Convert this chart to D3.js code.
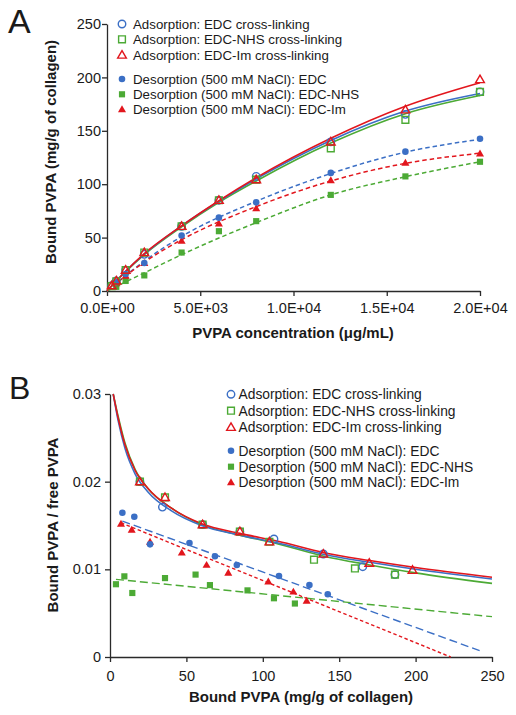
<!DOCTYPE html>
<html><head><meta charset="utf-8">
<script src="https://cdn.jsdelivr.net/npm/d3@7"></script>
<style>body{margin:0;background:#fff} svg{display:block} text{font-family:"Liberation Sans",Arial,Helvetica,sans-serif;fill:#1a1a1a}</style>
</head><body><svg id="c" width="516" height="715"></svg>
<script>
// ---------- Panel A data ----------
const concAds = [250, 500, 1000, 2000, 4000, 6000, 8000, 12000, 16000, 20000];
const adsEDC = [5, 9.5, 19.6, 34.3, 60.6, 85, 107.3, 139.6, 165.4, 186.5];
const adsNHS = [4.5, 9, 19.6, 36, 60.6, 85, 104.3, 133.5, 160.3, 186.5];
const adsIm  = [5, 9.5, 19.6, 36, 60.6, 85, 104.3, 139.6, 169.7, 198];

const concDes = [500, 1000, 2000, 4000, 6000, 8000, 12000, 16000, 20000];
const desEDC = [8.1, 15.9, 26.2, 52, 68.7, 83, 110.6, 130.5, 142.5];
const desNHS = [3.9, 9.4, 14.6, 36, 56, 65.4, 90, 107.3, 121];
const desIm  = [7.2, 14.2, 26.2, 47, 63.2, 77.4, 103.6, 120, 128.7];

// fitted curves in A
const fitConcAds = [0, 1000, 2000, 4000, 6000, 8000, 12000, 16000, 20000];
const fitAdsEDC = [0, 18.5, 34.5, 61, 84, 105, 141, 168.5, 185];
const fitAdsNHS = [0, 18, 34, 60, 83, 103, 138.5, 166, 183];
const fitAdsIm  = [0, 18.5, 35, 61, 84.5, 106, 143, 173, 195];
const fitConcDes = [0, 2000, 4000, 8000, 12000, 16000, 20000];
const fitDesEDC = [0, 28, 51, 84, 110, 130, 142];
const fitDesNHS = [0, 17, 34, 64, 90, 107, 121];
const fitDesIm  = [0, 27, 48, 79, 103, 119.5, 129];

const xTicksA = [0, 5000, 10000, 15000, 20000];
const xTickLabelsA = ["0.0E+00", "5.0E+03", "1.0E+04", "1.5E+04", "2.0E+04"];
const yTicksA = [0, 50, 100, 150, 200, 250];

// ---------- Panel B data ----------
// x = bound PVPA (same bound values as A, conc >= 1000 for adsorption), y = bound/free
const adsRatioEDC = [0.0200, 0.0171, 0.0151, 0.0143, 0.01346, 0.01175, 0.0103, 0.0094];
const adsRatioNHS = [0.0200, 0.0182, 0.0151, 0.0143, 0.01315, 0.0111, 0.0101, 0.0094];
const adsRatioIm  = [0.0200, 0.0182, 0.0151, 0.0143, 0.01315, 0.01175, 0.0107, 0.0099];
const desRatioEDC = [0.01646, 0.0160, 0.01285, 0.0130, 0.0115, 0.0105, 0.00924, 0.0082, 0.00715];
const desRatioNHS = [0.0083, 0.0092, 0.0073, 0.0090, 0.0094, 0.0082, 0.0076, 0.0067, 0.0061];
const desRatioIm  = [0.0152, 0.0145, 0.01315, 0.0119, 0.0105, 0.0096, 0.0086, 0.00745, 0.0064];

const fitBoundB = [2.1, 5.4, 9.8, 16.4, 25, 40, 60, 85, 110, 140, 170, 200, 250];
const fitBEDC = [0.0300, 0.0269, 0.0238, 0.0209, 0.0188, 0.0167, 0.0150, 0.0139, 0.0130, 0.0117, 0.0108, 0.0100, 0.0089];
const fitBNHS = [0.0300, 0.0274, 0.0244, 0.0214, 0.0192, 0.0170, 0.0151, 0.0139, 0.0129, 0.0115, 0.0105, 0.0096, 0.0084];
const fitBIm  = [0.0300, 0.0272, 0.0242, 0.0213, 0.0192, 0.0170, 0.0152, 0.0141, 0.0132, 0.0119, 0.0110, 0.0102, 0.0091];

const desLineEDCx = [8.1, 242], desLineEDCy = [0.0155, 0.00072];
const desLineNHSx = [3.9, 250], desLineNHSy = [0.00886, 0.0046];
const desLineImx  = [7.2, 223], desLineImy  = [0.0153, 0.0];

const xTicksB = [0, 50, 100, 150, 200, 250];
const yTicksB = [0, 0.01, 0.02, 0.03];
const yTickLabelsB = ["0", "0.01", "0.02", "0.03"];

const legendLabels = [
  "Adsorption: EDC cross-linking",
  "Adsorption: EDC-NHS cross-linking",
  "Adsorption: EDC-Im cross-linking",
  "Desorption (500 mM NaCl): EDC",
  "Desorption (500 mM NaCl): EDC-NHS",
  "Desorption (500 mM NaCl): EDC-Im"
];

// ---------- styles ----------
const C = {edc: "#3b6fc5", nhs: "#4caa35", im: "#e2161d"};
const AX = "#2a2a2a";
const svg = d3.select("#c");

function marker(g, kind, open, x, y, color) {
  const type = kind === "c" ? d3.symbolCircle : kind === "s" ? d3.symbolSquare : d3.symbolTriangle;
  const size = kind === "c" ? (open ? 44 : 34) : kind === "s" ? (open ? 46 : 38) : (open ? 33 : 28);
  g.append("path")
    .attr("d", d3.symbol().type(type).size(size)())
    .attr("transform", `translate(${x},${y + (kind === "t" ? 0.6 : 0)})`)
    .attr("fill", open ? "none" : color)
    .attr("stroke", open ? color : "none")
    .attr("stroke-width", 1.4);
}

function styleAxis(g, fs) {
  g.selectAll("path.domain").attr("stroke", AX).attr("stroke-width", 1.3);
  g.selectAll(".tick line").attr("stroke", AX).attr("stroke-width", 1.3);
  g.selectAll(".tick text").attr("font-size", fs).attr("fill", "#1a1a1a")
    .attr("font-family", '"Liberation Sans",Arial,sans-serif');
}

// ================= Panel A =================
const xA = d3.scaleLinear().domain([0, 20000]).range([107, 480]);
const yA = d3.scaleLinear().domain([0, 250]).range([291, 24]);

const gAx = svg.append("g").attr("transform", "translate(0,291)")
  .call(d3.axisBottom(xA).tickValues(xTicksA).tickFormat((d, i) => xTickLabelsA[i]).tickSize(5).tickSizeOuter(0).tickPadding(7));
styleAxis(gAx, 14.5);
const gAy = svg.append("g").attr("transform", "translate(107,0)")
  .call(d3.axisLeft(yA).tickValues(yTicksA).tickSize(5).tickSizeOuter(0).tickPadding(1));
styleAxis(gAy, 14.5);

const lineA = (xs, ys) => d3.line().x((d, i) => xA(xs[i])).y(d => yA(d)).curve(d3.curveMonotoneX)(ys);
const pA = svg.append("g");
[[fitDesEDC, C.edc], [fitDesIm, C.im], [fitDesNHS, C.nhs]].forEach(([ys, col]) => {
  pA.append("path").attr("d", lineA(fitConcDes, ys)).attr("fill", "none").attr("stroke", col)
    .attr("stroke-width", 1.5).attr("stroke-dasharray", "4.5,3");
});
[[fitAdsNHS, C.nhs], [fitAdsEDC, C.edc], [fitAdsIm, C.im]].forEach(([ys, col]) => {
  pA.append("path").attr("d", lineA(fitConcAds, ys)).attr("fill", "none").attr("stroke", col).attr("stroke-width", 1.6);
});
const mA = svg.append("g");
concDes.forEach((c, i) => marker(mA, "s", false, xA(c), yA(desNHS[i]), C.nhs));
concDes.forEach((c, i) => marker(mA, "t", false, xA(c), yA(desIm[i]), C.im));
concDes.forEach((c, i) => marker(mA, "c", false, xA(c), yA(desEDC[i]), C.edc));
concAds.forEach((c, i) => marker(mA, "c", true, xA(c), yA(adsEDC[i]), C.edc));
concAds.forEach((c, i) => marker(mA, "s", true, xA(c), yA(adsNHS[i]), C.nhs));
concAds.forEach((c, i) => marker(mA, "t", true, xA(c), yA(adsIm[i]), C.im));

svg.append("text").attr("x", 8).attr("y", 33).attr("font-size", 34).text("A");
svg.append("text").attr("x", 293).attr("y", 338).attr("text-anchor", "middle")
  .attr("font-size", 15).attr("font-weight", "bold").text("PVPA concentration (μg/mL)");
svg.append("text").attr("transform", "translate(56,152) rotate(-90)").attr("text-anchor", "middle")
  .attr("font-size", 15).attr("font-weight", "bold").text("Bound PVPA (mg/g of collagen)");

// legend
const legKinds = [["c", true, C.edc], ["s", true, C.nhs], ["t", true, C.im], ["c", false, C.edc], ["s", false, C.nhs], ["t", false, C.im]];
function legend(x0, tx, ys, fs) {
  const g = svg.append("g");
  legKinds.forEach(([k, open, col], i) => {
    marker(g, k, open, x0, ys[i], col);
    g.append("text").attr("x", tx).attr("y", ys[i]).attr("dy", "0.36em").attr("font-size", fs).text(legendLabels[i]);
  });
}
legend(122, 133, [24, 39.3, 55, 79, 94.3, 109.3], 13.3);

// ================= Panel B =================
const xB = d3.scaleLinear().domain([0, 250]).range([110, 492]);
const yB = d3.scaleLinear().domain([0, 0.03]).range([657, 394]);

const gBx = svg.append("g").attr("transform", "translate(0,657)")
  .call(d3.axisBottom(xB).tickValues(xTicksB).tickSize(5).tickSizeOuter(0).tickPadding(9));
styleAxis(gBx, 14.5);
const gBy = svg.append("g").attr("transform", "translate(110,0)")
  .call(d3.axisLeft(yB).tickValues(yTicksB).tickFormat((d, i) => yTickLabelsB[i]).tickSize(5).tickSizeOuter(0).tickPadding(4));
styleAxis(gBy, 14.5);

const lineB = (xs, ys, curve) => d3.line().x((d, i) => xB(xs[i])).y(d => yB(d)).curve(curve)(ys);
const pB = svg.append("g");
[[desLineEDCx, desLineEDCy, C.edc, "8,4"], [desLineImx, desLineImy, C.im, "3.5,2.5"], [desLineNHSx, desLineNHSy, C.nhs, "8,4"]]
  .forEach(([xs, ys, col, da]) => {
    pB.append("path").attr("d", lineB(xs, ys, d3.curveLinear)).attr("fill", "none").attr("stroke", col)
      .attr("stroke-width", 1.4).attr("stroke-dasharray", da);
  });
[[fitBNHS, C.nhs], [fitBEDC, C.edc], [fitBIm, C.im]].forEach(([ys, col]) => {
  pB.append("path").attr("d", lineB(fitBoundB, ys, d3.curveMonotoneX)).attr("fill", "none").attr("stroke", col).attr("stroke-width", 1.6);
});
const mB = svg.append("g");
const adsB = (arr) => arr.slice(2);
desNHS.forEach((b, i) => marker(mB, "s", false, xB(b), yB(desRatioNHS[i]), C.nhs));
desIm.forEach((b, i) => marker(mB, "t", false, xB(b), yB(desRatioIm[i]), C.im));
desEDC.forEach((b, i) => marker(mB, "c", false, xB(b), yB(desRatioEDC[i]), C.edc));
adsB(adsEDC).forEach((b, i) => marker(mB, "c", true, xB(b), yB(adsRatioEDC[i]), C.edc));
adsB(adsNHS).forEach((b, i) => marker(mB, "s", true, xB(b), yB(adsRatioNHS[i]), C.nhs));
adsB(adsIm).forEach((b, i) => marker(mB, "t", true, xB(b), yB(adsRatioIm[i]), C.im));

svg.append("text").attr("x", 9).attr("y", 399).attr("font-size", 32).text("B");
svg.append("text").attr("x", 301).attr("y", 702).attr("text-anchor", "middle")
  .attr("font-size", 15).attr("font-weight", "bold").text("Bound PVPA (mg/g of collagen)");
svg.append("text").attr("transform", "translate(58,525) rotate(-90)").attr("text-anchor", "middle")
  .attr("font-size", 15).attr("font-weight", "bold").text("Bound PVPA / free PVPA");

legend(231, 238.5, [394.3, 410.7, 427.3, 450.7, 466.7, 482.3], 13.8);
</script></body></html>
